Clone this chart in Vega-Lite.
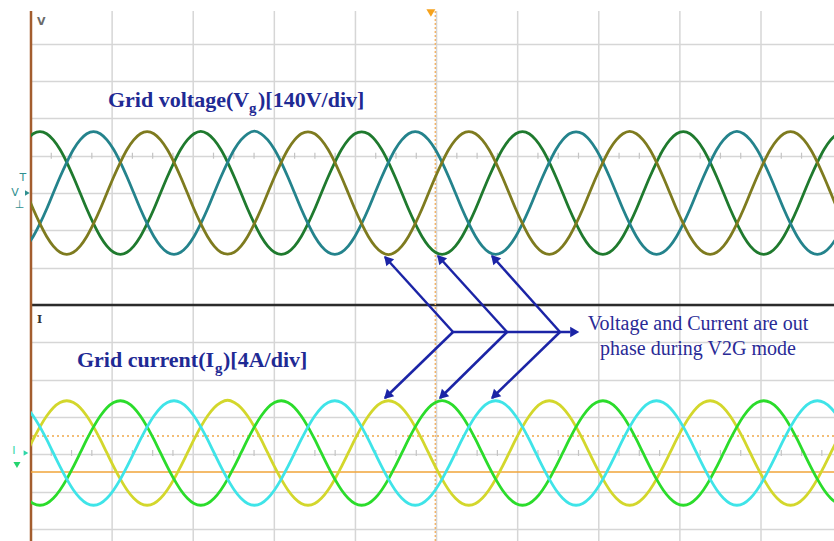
{
"$schema": "https://vega.github.io/schema/vega-lite/v6.json",
"width": 803,
"height": 530,
"autosize": {"type": "none"},
"padding": {"left": 31, "top": 11, "right": 0, "bottom": 0},
"background": "#ffffff",
"config": {"view": {"stroke": null}, "font": "Liberation Serif"},
"datasets": {
"vgrid": [{"t":10},{"t":20},{"t":30},{"t":40},{"t":50},{"t":60},{"t":70},{"t":80},{"t":90}],
"minor": [{"t":2.5},{"t":5},{"t":7.5},{"t":12.5},{"t":15},{"t":17.5},{"t":22.5},{"t":25},{"t":27.5},{"t":32.5},{"t":35},{"t":37.5},{"t":42.5},{"t":45},{"t":47.5},{"t":52.5},{"t":55},{"t":57.5},{"t":62.5},{"t":65},{"t":67.5},{"t":72.5},{"t":75},{"t":77.5},{"t":82.5},{"t":85},{"t":87.5},{"t":92.5},{"t":95},{"t":97.5}],
"scope": [
{"t":-0.55,"va":199,"vb":-199,"vc":0,"ia":0,"ib":-4.85,"ic":4.85},
{"t":0.27,"va":222,"vb":-163,"vc":-60,"ia":1.45,"ib":-5.41,"ic":3.96},
{"t":1.1,"va":230,"vb":-115,"vc":-115,"ia":2.8,"ib":-5.6,"ic":2.8},
{"t":1.93,"va":222,"vb":-60,"vc":-163,"ia":3.96,"ib":-5.41,"ic":1.45},
{"t":2.75,"va":199,"vb":0,"vc":-199,"ia":4.85,"ib":-4.85,"ic":0},
{"t":3.58,"va":163,"vb":60,"vc":-222,"ia":5.41,"ib":-3.96,"ic":-1.45},
{"t":4.41,"va":115,"vb":115,"vc":-230,"ia":5.6,"ib":-2.8,"ic":-2.8},
{"t":5.23,"va":60,"vb":163,"vc":-222,"ia":5.41,"ib":-1.45,"ic":-3.96},
{"t":6.06,"va":0,"vb":199,"vc":-199,"ia":4.85,"ib":0,"ic":-4.85},
{"t":6.88,"va":-60,"vb":222,"vc":-163,"ia":3.96,"ib":1.45,"ic":-5.41},
{"t":7.71,"va":-115,"vb":230,"vc":-115,"ia":2.8,"ib":2.8,"ic":-5.6},
{"t":8.54,"va":-163,"vb":222,"vc":-60,"ia":1.45,"ib":3.96,"ic":-5.41},
{"t":9.36,"va":-199,"vb":199,"vc":0,"ia":0,"ib":4.85,"ic":-4.85},
{"t":10.19,"va":-222,"vb":163,"vc":60,"ia":-1.45,"ib":5.41,"ic":-3.96},
{"t":11.02,"va":-230,"vb":115,"vc":115,"ia":-2.8,"ib":5.6,"ic":-2.8},
{"t":11.84,"va":-222,"vb":60,"vc":163,"ia":-3.96,"ib":5.41,"ic":-1.45},
{"t":12.67,"va":-199,"vb":0,"vc":199,"ia":-4.85,"ib":4.85,"ic":0},
{"t":13.49,"va":-163,"vb":-60,"vc":222,"ia":-5.41,"ib":3.96,"ic":1.45},
{"t":14.32,"va":-115,"vb":-115,"vc":230,"ia":-5.6,"ib":2.8,"ic":2.8},
{"t":15.15,"va":-60,"vb":-163,"vc":222,"ia":-5.41,"ib":1.45,"ic":3.96},
{"t":15.97,"va":0,"vb":-199,"vc":199,"ia":-4.85,"ib":0,"ic":4.85},
{"t":16.8,"va":60,"vb":-222,"vc":163,"ia":-3.96,"ib":-1.45,"ic":5.41},
{"t":17.63,"va":115,"vb":-230,"vc":115,"ia":-2.8,"ib":-2.8,"ic":5.6},
{"t":18.45,"va":163,"vb":-222,"vc":60,"ia":-1.45,"ib":-3.96,"ic":5.41},
{"t":19.28,"va":199,"vb":-199,"vc":0,"ia":0,"ib":-4.85,"ic":4.85},
{"t":20.1,"va":222,"vb":-163,"vc":-60,"ia":1.45,"ib":-5.41,"ic":3.96},
{"t":20.93,"va":231,"vb":-115,"vc":-115,"ia":2.8,"ib":-5.6,"ic":2.8},
{"t":21.76,"va":222,"vb":-60,"vc":-163,"ia":3.96,"ib":-5.41,"ic":1.45},
{"t":22.58,"va":199,"vb":0,"vc":-199,"ia":4.85,"ib":-4.85,"ic":0},
{"t":23.41,"va":163,"vb":60,"vc":-222,"ia":5.41,"ib":-3.96,"ic":-1.45},
{"t":24.24,"va":115,"vb":115,"vc":-229,"ia":5.65,"ib":-2.8,"ic":-2.8},
{"t":25.06,"va":60,"vb":163,"vc":-222,"ia":5.41,"ib":-1.45,"ic":-3.96},
{"t":25.89,"va":0,"vb":199,"vc":-199,"ia":4.85,"ib":0,"ic":-4.85},
{"t":26.71,"va":-60,"vb":222,"vc":-163,"ia":3.96,"ib":1.45,"ic":-5.41},
{"t":27.54,"va":-115,"vb":232,"vc":-115,"ia":2.8,"ib":2.8,"ic":-5.6},
{"t":28.37,"va":-163,"vb":222,"vc":-60,"ia":1.45,"ib":3.96,"ic":-5.41},
{"t":29.19,"va":-199,"vb":199,"vc":0,"ia":0,"ib":4.85,"ic":-4.85},
{"t":30.02,"va":-222,"vb":163,"vc":60,"ia":-1.45,"ib":5.41,"ic":-3.96},
{"t":30.85,"va":-230,"vb":115,"vc":115,"ia":-2.8,"ib":5.6,"ic":-2.8},
{"t":31.67,"va":-222,"vb":60,"vc":163,"ia":-3.96,"ib":5.41,"ic":-1.45},
{"t":32.5,"va":-199,"vb":0,"vc":199,"ia":-4.85,"ib":4.85,"ic":0},
{"t":33.32,"va":-163,"vb":-60,"vc":222,"ia":-5.41,"ib":3.96,"ic":1.45},
{"t":34.15,"va":-115,"vb":-115,"vc":229,"ia":-5.6,"ib":2.8,"ic":2.8},
{"t":34.98,"va":-60,"vb":-163,"vc":222,"ia":-5.41,"ib":1.45,"ic":3.96},
{"t":35.8,"va":0,"vb":-199,"vc":199,"ia":-4.85,"ib":0,"ic":4.85},
{"t":36.63,"va":60,"vb":-222,"vc":163,"ia":-3.96,"ib":-1.45,"ic":5.41},
{"t":37.46,"va":115,"vb":-230,"vc":115,"ia":-2.8,"ib":-2.8,"ic":5.6},
{"t":38.28,"va":163,"vb":-222,"vc":60,"ia":-1.45,"ib":-3.96,"ic":5.41},
{"t":39.11,"va":199,"vb":-199,"vc":0,"ia":0,"ib":-4.85,"ic":4.85},
{"t":39.93,"va":222,"vb":-163,"vc":-60,"ia":1.45,"ib":-5.41,"ic":3.96},
{"t":40.76,"va":229,"vb":-115,"vc":-115,"ia":2.8,"ib":-5.6,"ic":2.8},
{"t":41.59,"va":222,"vb":-60,"vc":-163,"ia":3.96,"ib":-5.41,"ic":1.45},
{"t":42.41,"va":199,"vb":0,"vc":-199,"ia":4.85,"ib":-4.85,"ic":0},
{"t":43.24,"va":163,"vb":60,"vc":-222,"ia":5.41,"ib":-3.96,"ic":-1.45},
{"t":44.07,"va":115,"vb":115,"vc":-231,"ia":5.6,"ib":-2.8,"ic":-2.8},
{"t":44.89,"va":60,"vb":163,"vc":-222,"ia":5.41,"ib":-1.45,"ic":-3.96},
{"t":45.72,"va":0,"vb":199,"vc":-199,"ia":4.85,"ib":0,"ic":-4.85},
{"t":46.54,"va":-60,"vb":222,"vc":-163,"ia":3.96,"ib":1.45,"ic":-5.41},
{"t":47.37,"va":-115,"vb":230,"vc":-115,"ia":2.8,"ib":2.8,"ic":-5.6},
{"t":48.2,"va":-163,"vb":222,"vc":-60,"ia":1.45,"ib":3.96,"ic":-5.41},
{"t":49.02,"va":-199,"vb":199,"vc":0,"ia":0,"ib":4.85,"ic":-4.85},
{"t":49.85,"va":-222,"vb":163,"vc":60,"ia":-1.45,"ib":5.41,"ic":-3.96},
{"t":50.68,"va":-230,"vb":115,"vc":115,"ia":-2.8,"ib":5.62,"ic":-2.8},
{"t":51.5,"va":-222,"vb":60,"vc":163,"ia":-3.96,"ib":5.41,"ic":-1.45},
{"t":52.33,"va":-199,"vb":0,"vc":199,"ia":-4.85,"ib":4.85,"ic":0},
{"t":53.15,"va":-163,"vb":-60,"vc":222,"ia":-5.41,"ib":3.96,"ic":1.45},
{"t":53.98,"va":-115,"vb":-115,"vc":230,"ia":-5.6,"ib":2.8,"ic":2.8},
{"t":54.81,"va":-60,"vb":-163,"vc":222,"ia":-5.41,"ib":1.45,"ic":3.96},
{"t":55.63,"va":0,"vb":-199,"vc":199,"ia":-4.85,"ib":0,"ic":4.85},
{"t":56.46,"va":60,"vb":-222,"vc":163,"ia":-3.96,"ib":-1.45,"ic":5.41},
{"t":57.29,"va":115,"vb":-230,"vc":115,"ia":-2.8,"ib":-2.8,"ic":5.6},
{"t":58.11,"va":163,"vb":-222,"vc":60,"ia":-1.45,"ib":-3.96,"ic":5.41},
{"t":58.94,"va":199,"vb":-199,"vc":0,"ia":0,"ib":-4.85,"ic":4.85},
{"t":59.76,"va":222,"vb":-163,"vc":-60,"ia":1.45,"ib":-5.41,"ic":3.96},
{"t":60.59,"va":230,"vb":-115,"vc":-115,"ia":2.8,"ib":-5.6,"ic":2.8},
{"t":61.42,"va":222,"vb":-60,"vc":-163,"ia":3.96,"ib":-5.41,"ic":1.45},
{"t":62.24,"va":199,"vb":0,"vc":-199,"ia":4.85,"ib":-4.85,"ic":0},
{"t":63.07,"va":163,"vb":60,"vc":-222,"ia":5.41,"ib":-3.96,"ic":-1.45},
{"t":63.9,"va":115,"vb":115,"vc":-230,"ia":5.6,"ib":-2.8,"ic":-2.8},
{"t":64.72,"va":60,"vb":163,"vc":-222,"ia":5.41,"ib":-1.45,"ic":-3.96},
{"t":65.55,"va":0,"vb":199,"vc":-199,"ia":4.85,"ib":0,"ic":-4.85},
{"t":66.37,"va":-60,"vb":222,"vc":-163,"ia":3.96,"ib":1.45,"ic":-5.41},
{"t":67.2,"va":-115,"vb":229,"vc":-115,"ia":2.8,"ib":2.8,"ic":-5.6},
{"t":68.03,"va":-163,"vb":222,"vc":-60,"ia":1.45,"ib":3.96,"ic":-5.41},
{"t":68.85,"va":-199,"vb":199,"vc":0,"ia":0,"ib":4.85,"ic":-4.85},
{"t":69.68,"va":-222,"vb":163,"vc":60,"ia":-1.45,"ib":5.41,"ic":-3.96},
{"t":70.51,"va":-230,"vb":115,"vc":115,"ia":-2.8,"ib":5.6,"ic":-2.8},
{"t":71.33,"va":-222,"vb":60,"vc":163,"ia":-3.96,"ib":5.41,"ic":-1.45},
{"t":72.16,"va":-199,"vb":0,"vc":199,"ia":-4.85,"ib":4.85,"ic":0},
{"t":72.98,"va":-163,"vb":-60,"vc":222,"ia":-5.41,"ib":3.96,"ic":1.45},
{"t":73.81,"va":-115,"vb":-115,"vc":231,"ia":-5.6,"ib":2.8,"ic":2.8},
{"t":74.64,"va":-60,"vb":-163,"vc":222,"ia":-5.41,"ib":1.45,"ic":3.96},
{"t":75.46,"va":0,"vb":-199,"vc":199,"ia":-4.85,"ib":0,"ic":4.85},
{"t":76.29,"va":60,"vb":-222,"vc":163,"ia":-3.96,"ib":-1.45,"ic":5.41},
{"t":77.12,"va":115,"vb":-230,"vc":115,"ia":-2.8,"ib":-2.8,"ic":5.6},
{"t":77.94,"va":163,"vb":-222,"vc":60,"ia":-1.45,"ib":-3.96,"ic":5.41},
{"t":78.77,"va":199,"vb":-199,"vc":0,"ia":0,"ib":-4.85,"ic":4.85},
{"t":79.59,"va":222,"vb":-163,"vc":-60,"ia":1.45,"ib":-5.41,"ic":3.96},
{"t":80.42,"va":230,"vb":-115,"vc":-115,"ia":2.8,"ib":-5.6,"ic":2.8},
{"t":81.25,"va":222,"vb":-60,"vc":-163,"ia":3.96,"ib":-5.41,"ic":1.45},
{"t":82.07,"va":199,"vb":0,"vc":-199,"ia":4.85,"ib":-4.85,"ic":0},
{"t":82.9,"va":163,"vb":60,"vc":-222,"ia":5.41,"ib":-3.96,"ic":-1.45},
{"t":83.73,"va":115,"vb":115,"vc":-230,"ia":5.6,"ib":-2.8,"ic":-2.8},
{"t":84.55,"va":60,"vb":163,"vc":-222,"ia":5.41,"ib":-1.45,"ic":-3.96},
{"t":85.38,"va":0,"vb":199,"vc":-199,"ia":4.85,"ib":0,"ic":-4.85},
{"t":86.2,"va":-60,"vb":222,"vc":-163,"ia":3.96,"ib":1.45,"ic":-5.41},
{"t":87.03,"va":-115,"vb":231,"vc":-115,"ia":2.8,"ib":2.8,"ic":-5.6},
{"t":87.86,"va":-163,"vb":222,"vc":-60,"ia":1.45,"ib":3.96,"ic":-5.41},
{"t":88.68,"va":-199,"vb":199,"vc":0,"ia":0,"ib":4.85,"ic":-4.85},
{"t":89.51,"va":-222,"vb":163,"vc":60,"ia":-1.45,"ib":5.41,"ic":-3.96},
{"t":90.34,"va":-230,"vb":115,"vc":115,"ia":-2.8,"ib":5.6,"ic":-2.8},
{"t":91.16,"va":-222,"vb":60,"vc":163,"ia":-3.96,"ib":5.41,"ic":-1.45},
{"t":91.99,"va":-199,"vb":0,"vc":199,"ia":-4.85,"ib":4.85,"ic":0},
{"t":92.81,"va":-163,"vb":-60,"vc":222,"ia":-5.41,"ib":3.96,"ic":1.45},
{"t":93.64,"va":-115,"vb":-115,"vc":230,"ia":-5.6,"ib":2.8,"ic":2.8},
{"t":94.47,"va":-60,"vb":-163,"vc":222,"ia":-5.41,"ib":1.45,"ic":3.96},
{"t":95.29,"va":0,"vb":-199,"vc":199,"ia":-4.85,"ib":0,"ic":4.85},
{"t":96.12,"va":60,"vb":-222,"vc":163,"ia":-3.96,"ib":-1.45,"ic":5.41},
{"t":96.95,"va":115,"vb":-230,"vc":115,"ia":-2.8,"ib":-2.8,"ic":5.6},
{"t":97.77,"va":163,"vb":-222,"vc":60,"ia":-1.45,"ib":-3.96,"ic":5.41},
{"t":98.6,"va":199,"vb":-199,"vc":0,"ia":0,"ib":-4.85,"ic":4.85},
{"t":99.42,"va":222,"vb":-163,"vc":-60,"ia":1.45,"ib":-5.41,"ic":3.96}
]
},
"resolve": {"scale": {"y": "independent", "color": "independent"}, "axis": {"y": "independent"}},
"layer": [
{
"layer": [
{"data": {"name": "vgrid"},
 "mark": {"type": "rule", "color": "#d6d6d6", "strokeWidth": 1.5},
 "encoding": {"x": {"field": "t", "type": "quantitative", "scale": {"domain": [0, 99], "nice": false, "zero": false}, "axis": null}}},
{"data": {"values": [{}]},
 "mark": {"type": "rule", "color": "#2b2b2b", "strokeWidth": 2.5},
 "encoding": {"y": {"datum": -420, "type": "quantitative", "scale": {"domain": [-1305, 682.5], "nice": false, "zero": false},
  "axis": {"values": [-1260,-1120,-980,-840,-700,-560,-420,-280,-140,0,140,280,420,560], "grid": true, "gridColor": "#d6d6d6", "gridWidth": 1.5, "ticks": false, "labels": false, "domain": false, "title": null}}}},
{"data": {"values": [{}]},
 "mark": {"type": "rule", "color": "#a35d2e", "strokeWidth": 2.5},
 "encoding": {"x": {"datum": 0, "type": "quantitative", "scale": {"domain": [0, 99], "nice": false, "zero": false}, "axis": null}}},
{"data": {"values": [{}]},
 "mark": {"type": "rule", "color": "#f2b46a", "strokeWidth": 1.5, "strokeDash": [2, 2]},
 "encoding": {"x": {"datum": 49.85, "type": "quantitative", "scale": {"domain": [0, 99], "nice": false, "zero": false}, "axis": null}}}
]
},
{
"layer": [
{"data": {"name": "minor"},
 "mark": {"type": "rule", "color": "#c4c4c4", "strokeWidth": 1.2},
 "encoding": {"x": {"field": "t", "type": "quantitative", "scale": {"domain": [0, 99], "nice": false, "zero": false}, "axis": null},
  "y": {"datum": 151.25, "type": "quantitative", "scale": {"domain": [-1305, 682.5], "nice": false, "zero": false}, "axis": null},
  "y2": {"datum": 128.75}}},
{"data": {"name": "scope"},
 "transform": [{"fold": ["va", "vb", "vc"], "as": ["s", "v"]}],
 "mark": {"type": "line", "strokeWidth": 2.8, "interpolate": "monotone", "clip": true},
 "encoding": {
  "x": {"field": "t", "type": "quantitative", "scale": {"domain": [0, 99], "nice": false, "zero": false}, "axis": null},
  "y": {"field": "v", "type": "quantitative", "scale": {"domain": [-1305, 682.5], "nice": false, "zero": false}, "axis": null},
  "color": {"field": "s", "type": "nominal", "scale": {"domain": ["va", "vb", "vc"], "range": ["#1f7a2e", "#24838c", "#7e7b1f"]}, "legend": null}
 }},
{"data": {"values": [{"t": 9.49, "v": 322.5, "label": "Grid voltage(V"}, {"t": 27.99, "v": 322.5, "label": ")[140V/div]"}]},
 "mark": {"type": "text", "font": "Liberation Serif", "fontWeight": "bold", "fontSize": 22, "align": "left", "baseline": "alphabetic", "color": "#1f2a94"},
 "encoding": {"x": {"field": "t", "type": "quantitative", "axis": null}, "y": {"field": "v", "type": "quantitative", "axis": null}, "text": {"field": "label"}}},
{"data": {"values": [{"t": 26.88, "v": 300, "label": "g"}]},
 "mark": {"type": "text", "font": "Liberation Serif", "fontWeight": "bold", "fontSize": 15, "align": "left", "baseline": "alphabetic", "color": "#1f2a94"},
 "encoding": {"x": {"field": "t", "type": "quantitative", "axis": null}, "y": {"field": "v", "type": "quantitative", "axis": null}, "text": {"field": "label"}}},
{"data": {"values": [{"t": 0.74, "v": 630, "label": "V"}]},
 "mark": {"type": "text", "font": "DejaVu Sans", "fontSize": 11, "fontWeight": "bold", "align": "left", "baseline": "alphabetic", "color": "#6a6a6a"},
 "encoding": {"x": {"field": "t", "type": "quantitative", "axis": null}, "y": {"field": "v", "type": "quantitative", "axis": null}, "text": {"field": "label"}}},
{"data": {"values": [{"t": -0.99, "v": 56, "label": "T"}, {"t": -1.97, "v": 0, "label": "V"}, {"t": -1.4, "v": -45, "label": "⊥"}]},
 "mark": {"type": "text", "font": "DejaVu Sans", "fontSize": 11, "align": "center", "baseline": "middle", "color": "#2f8f8f"},
 "encoding": {"x": {"field": "t", "type": "quantitative", "axis": null}, "y": {"field": "v", "type": "quantitative", "axis": null}, "text": {"field": "label"}}},
{"data": {"values": [{"t": -0.45, "v": 0}]},
 "mark": {"type": "point", "shape": "triangle-right", "filled": true, "size": 30, "color": "#2f8f8f", "opacity": 1},
 "encoding": {"x": {"field": "t", "type": "quantitative", "axis": null}, "y": {"field": "v", "type": "quantitative", "axis": null}}},
{"data": {"values": [{"t": 49.3, "v": 675}]},
 "mark": {"type": "point", "shape": "triangle-down", "filled": true, "size": 80, "color": "#f6a21c", "opacity": 1},
 "encoding": {"x": {"field": "t", "type": "quantitative", "axis": null}, "y": {"field": "v", "type": "quantitative", "axis": null}}},
{"data": {"values": [
  {"t": 52.03, "v": -521.25, "t2": 43.64, "v2": -240},
  {"t": 52.03, "v": -521.25, "t2": 43.64, "v2": -768.75},
  {"t": 58.69, "v": -521.25, "t2": 50.18, "v2": -236.25},
  {"t": 58.69, "v": -521.25, "t2": 50.43, "v2": -768.75},
  {"t": 65.22, "v": -521.25, "t2": 56.84, "v2": -236.25},
  {"t": 65.22, "v": -521.25, "t2": 56.84, "v2": -768.75},
  {"t": 52.03, "v": -521.25, "t2": 66.5, "v2": -521.25}]},
 "mark": {"type": "rule", "color": "#1b24a6", "strokeWidth": 2.5},
 "encoding": {"x": {"field": "t", "type": "quantitative", "axis": null}, "y": {"field": "v", "type": "quantitative", "axis": null}, "x2": {"field": "t2"}, "y2": {"field": "v2"}}},
{"data": {"values": [{"t": 44.04, "v": -253.1}, {"t": 50.57, "v": -249.4}, {"t": 57.23, "v": -249.4}]},
 "mark": {"type": "point", "shape": "triangle", "filled": true, "size": 110, "angle": 317.8, "color": "#1b24a6", "opacity": 1},
 "encoding": {"x": {"field": "t", "type": "quantitative", "axis": null}, "y": {"field": "v", "type": "quantitative", "axis": null}}},
{"data": {"values": [{"t": 44.06, "v": -756.4}, {"t": 50.84, "v": -756.4}, {"t": 57.26, "v": -756.4}]},
 "mark": {"type": "point", "shape": "triangle", "filled": true, "size": 110, "angle": 225.8, "color": "#1b24a6", "opacity": 1},
 "encoding": {"x": {"field": "t", "type": "quantitative", "axis": null}, "y": {"field": "v", "type": "quantitative", "axis": null}}},
{"data": {"values": [{"t": 66.85, "v": -521.25}]},
 "mark": {"type": "point", "shape": "triangle", "filled": true, "size": 110, "angle": 90, "color": "#1b24a6", "opacity": 1},
 "encoding": {"x": {"field": "t", "type": "quantitative", "axis": null}, "y": {"field": "v", "type": "quantitative", "axis": null}}}
]
},
{
"layer": [
{"data": {"values": [{}]},
 "mark": {"type": "rule", "color": "#f0a94a", "strokeWidth": 1.5, "strokeDash": [2, 3]},
 "encoding": {"y": {"datum": 1.82, "type": "quantitative", "scale": {"domain": [-9.43, 47.36], "nice": false, "zero": false}, "axis": null}}},
{"data": {"values": [{}]},
 "mark": {"type": "rule", "color": "#f0a53a", "strokeWidth": 1.5},
 "encoding": {"y": {"datum": -2.04, "type": "quantitative", "scale": {"domain": [-9.43, 47.36], "nice": false, "zero": false}, "axis": null}}},
{"data": {"name": "minor"},
 "mark": {"type": "rule", "color": "#c4c4c4", "strokeWidth": 1.2},
 "encoding": {"x": {"field": "t", "type": "quantitative", "scale": {"domain": [0, 99], "nice": false, "zero": false}, "axis": null},
  "y": {"datum": 0.32, "type": "quantitative", "scale": {"domain": [-9.43, 47.36], "nice": false, "zero": false}, "axis": null},
  "y2": {"datum": -0.32}}},
{"data": {"name": "scope"},
 "transform": [{"fold": ["ia", "ib", "ic"], "as": ["s", "i"]}],
 "mark": {"type": "line", "strokeWidth": 2.8, "interpolate": "monotone", "clip": true},
 "encoding": {
  "x": {"field": "t", "type": "quantitative", "scale": {"domain": [0, 99], "nice": false, "zero": false}, "axis": null},
  "y": {"field": "i", "type": "quantitative", "scale": {"domain": [-9.43, 47.36], "nice": false, "zero": false}, "axis": null},
  "color": {"field": "s", "type": "nominal", "scale": {"domain": ["ia", "ib", "ic"], "range": ["#d3d72c", "#2bdc2b", "#3fe4e8"]}, "legend": null}
 }},
{"data": {"values": [{"t": 5.67, "i": 9.215, "label": "Grid current(I"}, {"t": 23.67, "i": 9.215, "label": ")[4A/div]"}]},
 "mark": {"type": "text", "font": "Liberation Serif", "fontWeight": "bold", "fontSize": 22, "align": "left", "baseline": "alphabetic", "color": "#1f2a94"},
 "encoding": {"x": {"field": "t", "type": "quantitative", "axis": null}, "y": {"field": "i", "type": "quantitative", "axis": null}, "text": {"field": "label"}}},
{"data": {"values": [{"t": 22.68, "i": 8.57, "label": "g"}]},
 "mark": {"type": "text", "font": "Liberation Serif", "fontWeight": "bold", "fontSize": 15, "align": "left", "baseline": "alphabetic", "color": "#1f2a94"},
 "encoding": {"x": {"field": "t", "type": "quantitative", "axis": null}, "y": {"field": "i", "type": "quantitative", "axis": null}, "text": {"field": "label"}}},
{"data": {"values": [{"t": 82.23, "i": 13.18, "label": "Voltage and Current are out"}, {"t": 82.23, "i": 10.5, "label": "phase during V2G mode"}]},
 "mark": {"type": "text", "font": "Liberation Serif", "fontSize": 20, "align": "center", "baseline": "alphabetic", "color": "#2a2a96"},
 "encoding": {"x": {"field": "t", "type": "quantitative", "axis": null}, "y": {"field": "i", "type": "quantitative", "axis": null}, "text": {"field": "label"}}},
{"data": {"values": [{"t": 0.74, "i": 13.93, "label": "I"}]},
 "mark": {"type": "text", "font": "DejaVu Serif", "fontSize": 11, "fontWeight": "bold", "align": "left", "baseline": "alphabetic", "color": "#333333"},
 "encoding": {"x": {"field": "t", "type": "quantitative", "axis": null}, "y": {"field": "i", "type": "quantitative", "axis": null}, "text": {"field": "label"}}},
{"data": {"values": [{"t": -2.1, "i": 0.2, "label": "I"}]},
 "mark": {"type": "text", "font": "DejaVu Sans", "fontSize": 11, "align": "center", "baseline": "middle", "color": "#2fd6a8"},
 "encoding": {"x": {"field": "t", "type": "quantitative", "axis": null}, "y": {"field": "i", "type": "quantitative", "axis": null}, "text": {"field": "label"}}},
{"data": {"values": [{"t": -0.62, "i": 0}]},
 "mark": {"type": "point", "shape": "triangle-right", "filled": true, "size": 30, "color": "#2fd6a8", "opacity": 1},
 "encoding": {"x": {"field": "t", "type": "quantitative", "axis": null}, "y": {"field": "i", "type": "quantitative", "axis": null}}},
{"data": {"values": [{"t": -1.73, "i": -1.29}]},
 "mark": {"type": "point", "shape": "triangle-down", "filled": true, "size": 50, "color": "#25d46e", "opacity": 1},
 "encoding": {"x": {"field": "t", "type": "quantitative", "axis": null}, "y": {"field": "i", "type": "quantitative", "axis": null}}}
]
}
]
}
